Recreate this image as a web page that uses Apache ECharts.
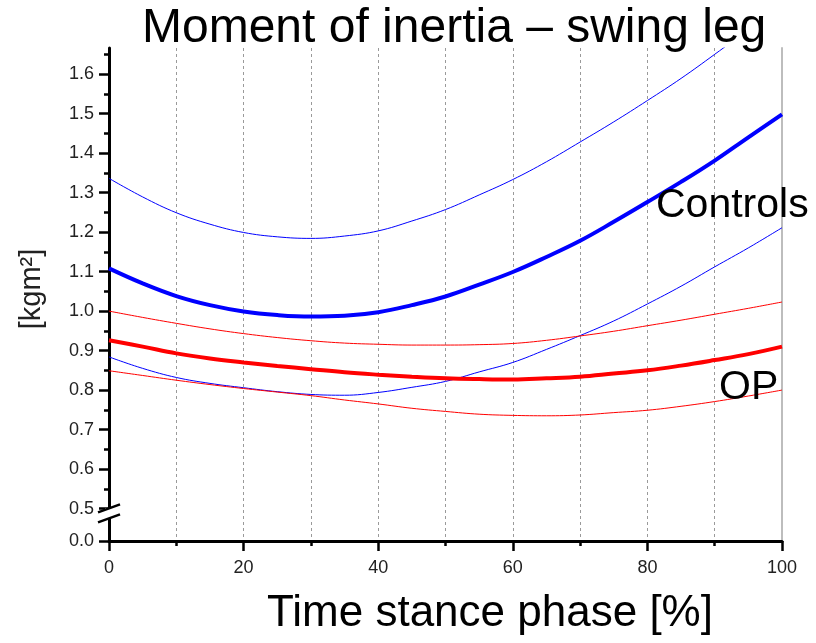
<!DOCTYPE html>
<html>
<head>
<meta charset="utf-8">
<script src="https://cdn.jsdelivr.net/npm/echarts@6.0.0/dist/echarts.min.js"></script>
<style>
html,body{margin:0;padding:0;background:#fff;}
#chart{width:816px;height:643px;}
</style>
</head>
<body>
<div id="chart"></div>
<script>
// ---- data ----
var xValues = [0, 5, 10, 15, 20, 25, 30, 35, 40, 45, 50, 55, 60, 65, 70, 75, 80, 85, 90, 95, 100];
var controlsMean  = [1.108, 1.070, 1.038, 1.015, 0.999, 0.990, 0.986, 0.988, 0.997, 1.015, 1.037, 1.067, 1.099, 1.137, 1.178, 1.226, 1.276, 1.327, 1.381, 1.440, 1.498];
var controlsUpper = [1.336, 1.289, 1.249, 1.220, 1.199, 1.188, 1.184, 1.190, 1.203, 1.228, 1.257, 1.294, 1.333, 1.378, 1.428, 1.479, 1.533, 1.589, 1.650, 1.713, 1.780];
var controlsLower = [0.884, 0.855, 0.832, 0.817, 0.806, 0.796, 0.789, 0.787, 0.794, 0.807, 0.822, 0.846, 0.870, 0.903, 0.938, 0.975, 1.018, 1.063, 1.112, 1.160, 1.211];
var opMean  = [0.926, 0.910, 0.893, 0.880, 0.870, 0.861, 0.853, 0.845, 0.839, 0.834, 0.830, 0.828, 0.827, 0.830, 0.834, 0.842, 0.850, 0.862, 0.876, 0.891, 0.910];
var opUpper = [1.000, 0.984, 0.969, 0.955, 0.943, 0.933, 0.925, 0.919, 0.916, 0.914, 0.914, 0.915, 0.918, 0.926, 0.937, 0.949, 0.963, 0.977, 0.992, 1.007, 1.023];
var opLower = [0.849, 0.837, 0.825, 0.814, 0.804, 0.795, 0.786, 0.775, 0.765, 0.754, 0.746, 0.739, 0.736, 0.735, 0.737, 0.743, 0.749, 0.759, 0.771, 0.785, 0.800];

// y axis with a break: value 0.0 is drawn at axis position BREAK_BASE
var BREAK_BASE = 0.418;
var yMax = 1.666;
var yTickValues = [BREAK_BASE, 0.5, 0.6, 0.7, 0.8, 0.9, 1.0, 1.1, 1.2, 1.3, 1.4, 1.5, 1.6];
var yTickLabels = ['0.0', '0.5', '0.6', '0.7', '0.8', '0.9', '1.0', '1.1', '1.2', '1.3', '1.4', '1.5', '1.6'];
var yMinorValues = [0.55, 0.65, 0.75, 0.85, 0.95, 1.05, 1.15, 1.25, 1.35, 1.45, 1.55, 1.65];
var xMajorInterval = 20;
var xGridInterval = 10;

var titleText = 'Moment of inertia \u2013 swing leg';
var xName = 'Time stance phase [%]';
var yName = '[kgm\u00B2]';
var labelControls = 'Controls';
var labelOP = 'OP';

var FONT = '"Liberation Sans", Arial, Helvetica, sans-serif';

function pairs(ys) { return xValues.map(function (x, i) { return [x, ys[i]]; }); }

var chart = echarts.init(document.getElementById('chart'), null, {renderer: 'canvas'});

function lineSeries(name, data, color, width) {
  return {
    name: name, type: 'line', data: pairs(data), xAxisIndex: 0, yAxisIndex: 0,
    showSymbol: false, symbol: 'none', smooth: 0.4, clip: true,
    lineStyle: {color: color, width: width}, z: width > 2 ? 4 : 3
  };
}

var option = {
  animation: false,
  backgroundColor: '#ffffff',
  textStyle: {fontFamily: FONT},
  title: {
    text: titleText, left: 142, top: 5, padding: 0,
    textStyle: {fontSize: 48, fontWeight: 'normal', color: '#000', fontFamily: FONT}
  },
  grid: {left: 109, right: 34, top: 48, bottom: 102, containLabel: false},
  xAxis: [
    {
      type: 'value', min: 0, max: 100, interval: xGridInterval, position: 'bottom',
      axisLine: {show: false}, axisTick: {show: false}, axisLabel: {show: false},
      splitLine: {show: true, lineStyle: {color: '#9a9a9a', width: 1, type: [3, 3]}}
    },
    {
      type: 'value', min: 0, max: 100, interval: xMajorInterval, position: 'bottom', offset: 0,
      axisLine: {show: true, onZero: false, lineStyle: {color: '#000', width: 3}},
      axisTick: {show: true, inside: false, length: 10, lineStyle: {color: '#000', width: 2.5}},
      minorTick: {show: true, splitNumber: 2, length: 5, lineStyle: {color: '#000', width: 2.5}},
      axisLabel: {show: true, margin: 18, fontSize: 18, color: '#222', fontFamily: FONT},
      splitLine: {show: false}
    }
  ],
  yAxis: [
    {
      type: 'value', min: BREAK_BASE, max: yMax, position: 'left',
      axisLine: {show: true, onZero: false, lineStyle: {color: '#000', width: 3}},
      axisTick: {show: true, inside: false, length: 10, customValues: yTickValues, lineStyle: {color: '#000', width: 2.5}},
      axisLabel: {
        show: true, margin: 15, fontSize: 18, color: '#222', fontFamily: FONT,
        customValues: yTickValues,
        formatter: function (v) {
          for (var i = 0; i < yTickValues.length; i++) {
            if (Math.abs(yTickValues[i] - v) < 1e-6) return yTickLabels[i];
          }
          return '';
        }
      },
      splitLine: {show: false}
    },
    {
      type: 'value', min: BREAK_BASE, max: yMax, position: 'left', offset: 0,
      axisLine: {show: false},
      axisTick: {show: true, inside: false, length: 5, customValues: yMinorValues, lineStyle: {color: '#000', width: 2.5}},
      axisLabel: {show: false}, splitLine: {show: false}
    },
    {
      type: 'value', min: BREAK_BASE, max: yMax, position: 'right',
      axisLine: {show: true, onZero: false, lineStyle: {color: '#bdbdbd', width: 2}},
      axisTick: {show: false}, axisLabel: {show: false}, splitLine: {show: false}
    }
  ],
  series: [
    lineSeries('Controls +SD', controlsUpper, '#0000ff', 1),
    lineSeries('Controls -SD', controlsLower, '#0000ff', 1),
    lineSeries('OP +SD', opUpper, '#ff0000', 1),
    lineSeries('OP -SD', opLower, '#ff0000', 1),
    lineSeries('Controls', controlsMean, '#0000ff', 4),
    lineSeries('OP', opMean, '#ff0000', 4)
  ]
};
chart.setOption(option);

// annotations, axis names and the axis-break marks
function addGraphics() {
  var ax = chart.convertToPixel({xAxisIndex: 0, yAxisIndex: 0}, [0, 0.488]);
  var bx = ax[0], by = ax[1];
  var g = [
    {type: 'rect', shape: {x: bx - 4, y: by - 5, width: 8, height: 10}, style: {fill: '#fff'}, z: 50},
    {type: 'line', shape: {x1: bx - 11, y1: by - 1, x2: bx + 11, y2: by - 9}, style: {stroke: '#000', lineWidth: 2.5}, z: 51},
    {type: 'line', shape: {x1: bx - 11, y1: by + 9, x2: bx + 11, y2: by + 1}, style: {stroke: '#000', lineWidth: 2.5}, z: 51},
    {type: 'text', x: 490, y: 614, style: {text: xName, font: '44px ' + FONT, fill: '#000', align: 'center', verticalAlign: 'middle'}, z: 60},
    {type: 'text', x: 32, y: 289, rotation: Math.PI / 2, style: {text: yName, font: '29px ' + FONT, fill: '#222', align: 'center', verticalAlign: 'middle'}, z: 60},
    {type: 'text', x: 656, y: 206, style: {text: labelControls, font: '41px ' + FONT, fill: '#000', align: 'left', verticalAlign: 'middle'}, z: 60},
    {type: 'text', x: 719, y: 388, style: {text: labelOP, font: '41px ' + FONT, fill: '#000', align: 'left', verticalAlign: 'middle'}, z: 60}
  ];
  chart.setOption({graphic: g});
}
addGraphics();
</script>
</body>
</html>
